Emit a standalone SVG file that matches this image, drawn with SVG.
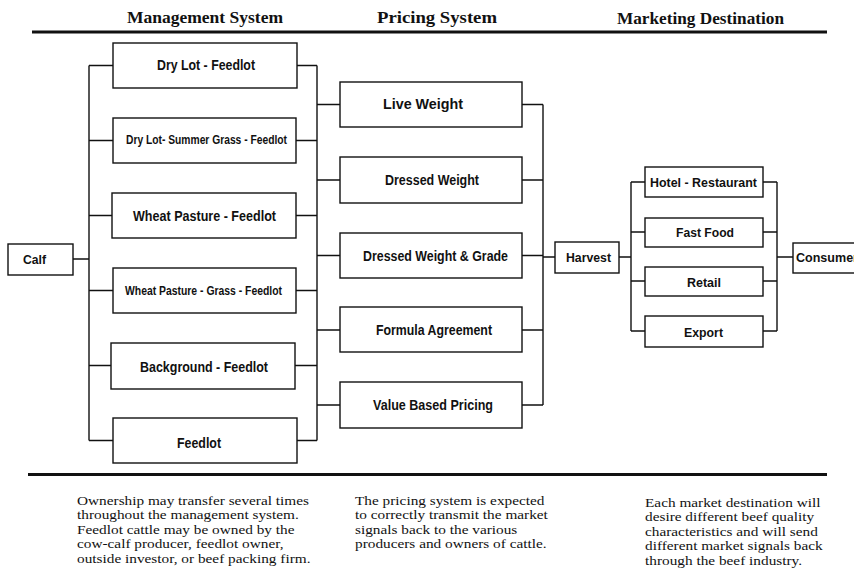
<svg xmlns="http://www.w3.org/2000/svg" width="854" height="583" viewBox="0 0 854 583">
<style>
.bg{fill:#fff}
.box{fill:#fff;stroke:#111;stroke-width:1.4}
.lbl{font-family:"Liberation Sans",Arial,sans-serif;font-weight:bold;fill:#111;text-anchor:middle}
.hdr{font-family:"Liberation Serif","Times New Roman",serif;font-weight:bold;font-size:16px;fill:#111;text-anchor:middle}
.note{font-family:"Liberation Serif","Times New Roman",serif;font-size:12.5px;fill:#111}
.rule{stroke:#111;stroke-width:3;fill:none}
.con{stroke:#111;stroke-width:1.4;fill:none}
</style>
<rect class="bg" x="0" y="0" width="854" height="583"/>
<g id="headers">
<text class="hdr" x="205" y="23" textLength="156" lengthAdjust="spacingAndGlyphs">Management System</text>
<text class="hdr" x="437" y="23" textLength="120" lengthAdjust="spacingAndGlyphs">Pricing System</text>
<text class="hdr" x="700.5" y="24" textLength="167" lengthAdjust="spacingAndGlyphs">Marketing Destination</text>
<line class="rule" x1="32" y1="32" x2="827" y2="32"/>
<line class="rule" x1="28" y1="474.5" x2="827" y2="474.5"/>
</g>
<g id="connectors">
<path class="con" d="M73 259H89 M89 65.5V440.5 M89 65.5H113 M89 140.5H113 M89 215.5H112 M89 290.5H113 M89 365.5H111 M89 440.5H113"/>
<path class="con" d="M297 65.5H317 M296 140.5H317 M296 215.5H317 M296 290.5H317 M295 365.5H317 M297 440.5H317 M317 65.5V440.5"/>
<path class="con" d="M317 104.5H340 M317 180H340 M317 255.5H340 M317 330H340 M317 405H340"/>
<path class="con" d="M522 104.5H543 M522 180H543 M522 255.5H543 M522 330H543 M522 405H543 M543 104.5V405 M543 257H555"/>
<path class="con" d="M619 257H631 M631 182V331 M631 182H645 M631 232H645 M631 281H645 M631 331H645"/>
<path class="con" d="M763 182H777 M763 232H777 M763 281H777 M763 331H777 M777 182V331 M777 257H793"/>
</g>
<g id="calf"><rect class="box" x="8" y="244" width="65" height="31"/><text class="lbl" x="34.5" y="264" font-size="12.5" textLength="23" lengthAdjust="spacingAndGlyphs">Calf</text></g>
<g id="m1"><rect class="box" x="113" y="43" width="184" height="45"/><text class="lbl" x="206" y="70" font-size="14" textLength="98" lengthAdjust="spacingAndGlyphs">Dry Lot - Feedlot</text></g>
<g id="m2"><rect class="box" x="113" y="118" width="183" height="45"/><text class="lbl" x="206.5" y="144" font-size="12" textLength="161" lengthAdjust="spacingAndGlyphs">Dry Lot- Summer Grass - Feedlot</text></g>
<g id="m3"><rect class="box" x="112" y="193" width="184" height="45"/><text class="lbl" x="204.5" y="220.5" font-size="14" textLength="143" lengthAdjust="spacingAndGlyphs">Wheat Pasture - Feedlot</text></g>
<g id="m4"><rect class="box" x="113" y="268" width="183" height="45"/><text class="lbl" x="203.5" y="295" font-size="12.5" textLength="157" lengthAdjust="spacingAndGlyphs">Wheat Pasture - Grass - Feedlot</text></g>
<g id="m5"><rect class="box" x="111" y="343" width="184" height="46"/><text class="lbl" x="204" y="372" font-size="14" textLength="128" lengthAdjust="spacingAndGlyphs">Background - Feedlot</text></g>
<g id="m6"><rect class="box" x="113" y="418" width="184" height="45"/><text class="lbl" x="199" y="448" font-size="14" textLength="44" lengthAdjust="spacingAndGlyphs">Feedlot</text></g>
<g id="p1"><rect class="box" x="340" y="82" width="182" height="45"/><text class="lbl" x="423" y="108.5" font-size="14" textLength="80" lengthAdjust="spacingAndGlyphs">Live Weight</text></g>
<g id="p2"><rect class="box" x="340" y="157" width="182" height="46"/><text class="lbl" x="432" y="185" font-size="14" textLength="94" lengthAdjust="spacingAndGlyphs">Dressed Weight</text></g>
<g id="p3"><rect class="box" x="340" y="233" width="182" height="45"/><text class="lbl" x="435.5" y="260.5" font-size="14" textLength="145" lengthAdjust="spacingAndGlyphs">Dressed Weight &amp; Grade</text></g>
<g id="p4"><rect class="box" x="340" y="307" width="182" height="45"/><text class="lbl" x="434" y="334.5" font-size="14" textLength="116" lengthAdjust="spacingAndGlyphs">Formula Agreement</text></g>
<g id="p5"><rect class="box" x="340" y="382" width="182" height="46"/><text class="lbl" x="433" y="410" font-size="14" textLength="120" lengthAdjust="spacingAndGlyphs">Value Based Pricing</text></g>
<g id="harvest"><rect class="box" x="555" y="242" width="64" height="31"/><text class="lbl" x="588.5" y="262" font-size="13" textLength="45" lengthAdjust="spacingAndGlyphs">Harvest</text></g>
<g id="d1"><rect class="box" x="645" y="167" width="118" height="30"/><text class="lbl" x="703.5" y="187" font-size="13.5" textLength="107" lengthAdjust="spacingAndGlyphs">Hotel - Restaurant</text></g>
<g id="d2"><rect class="box" x="645" y="218" width="118" height="29"/><text class="lbl" x="705" y="237" font-size="13.5" textLength="58" lengthAdjust="spacingAndGlyphs">Fast Food</text></g>
<g id="d3"><rect class="box" x="645" y="267" width="118" height="29"/><text class="lbl" x="704" y="287" font-size="13.5" textLength="34" lengthAdjust="spacingAndGlyphs">Retail</text></g>
<g id="d4"><rect class="box" x="645" y="316" width="118" height="31"/><text class="lbl" x="703.5" y="336.5" font-size="13.5" textLength="39" lengthAdjust="spacingAndGlyphs">Export</text></g>
<g id="consumer"><rect class="box" x="793" y="243" width="70" height="30"/><text class="lbl" x="796" y="262" font-size="13" textLength="62" lengthAdjust="spacingAndGlyphs" style="text-anchor:start">Consumer</text></g>
<g id="notes">
<text class="note" transform="translate(77,0) scale(1.224,1)"><tspan x="0" y="505">Ownership may transfer several times</tspan><tspan x="0" y="519.5">throughout the management system.</tspan><tspan x="0" y="534">Feedlot cattle may be owned by the</tspan><tspan x="0" y="548.5">cow-calf producer, feedlot owner,</tspan><tspan x="0" y="563">outside investor, or beef packing firm.</tspan></text>
<text class="note" transform="translate(355,0) scale(1.224,1)"><tspan x="0" y="505">The pricing system is expected</tspan><tspan x="0" y="519.5">to correctly transmit the market</tspan><tspan x="0" y="534">signals back to the various</tspan><tspan x="0" y="548.5">producers and owners of cattle.</tspan></text>
<text class="note" transform="translate(645,0) scale(1.224,1)"><tspan x="0" y="507">Each market destination will</tspan><tspan x="0" y="521.5">desire different beef quality</tspan><tspan x="0" y="536">characteristics and will send</tspan><tspan x="0" y="550.5">different market signals back</tspan><tspan x="0" y="565">through the beef industry.</tspan></text>
</g>
</svg>
